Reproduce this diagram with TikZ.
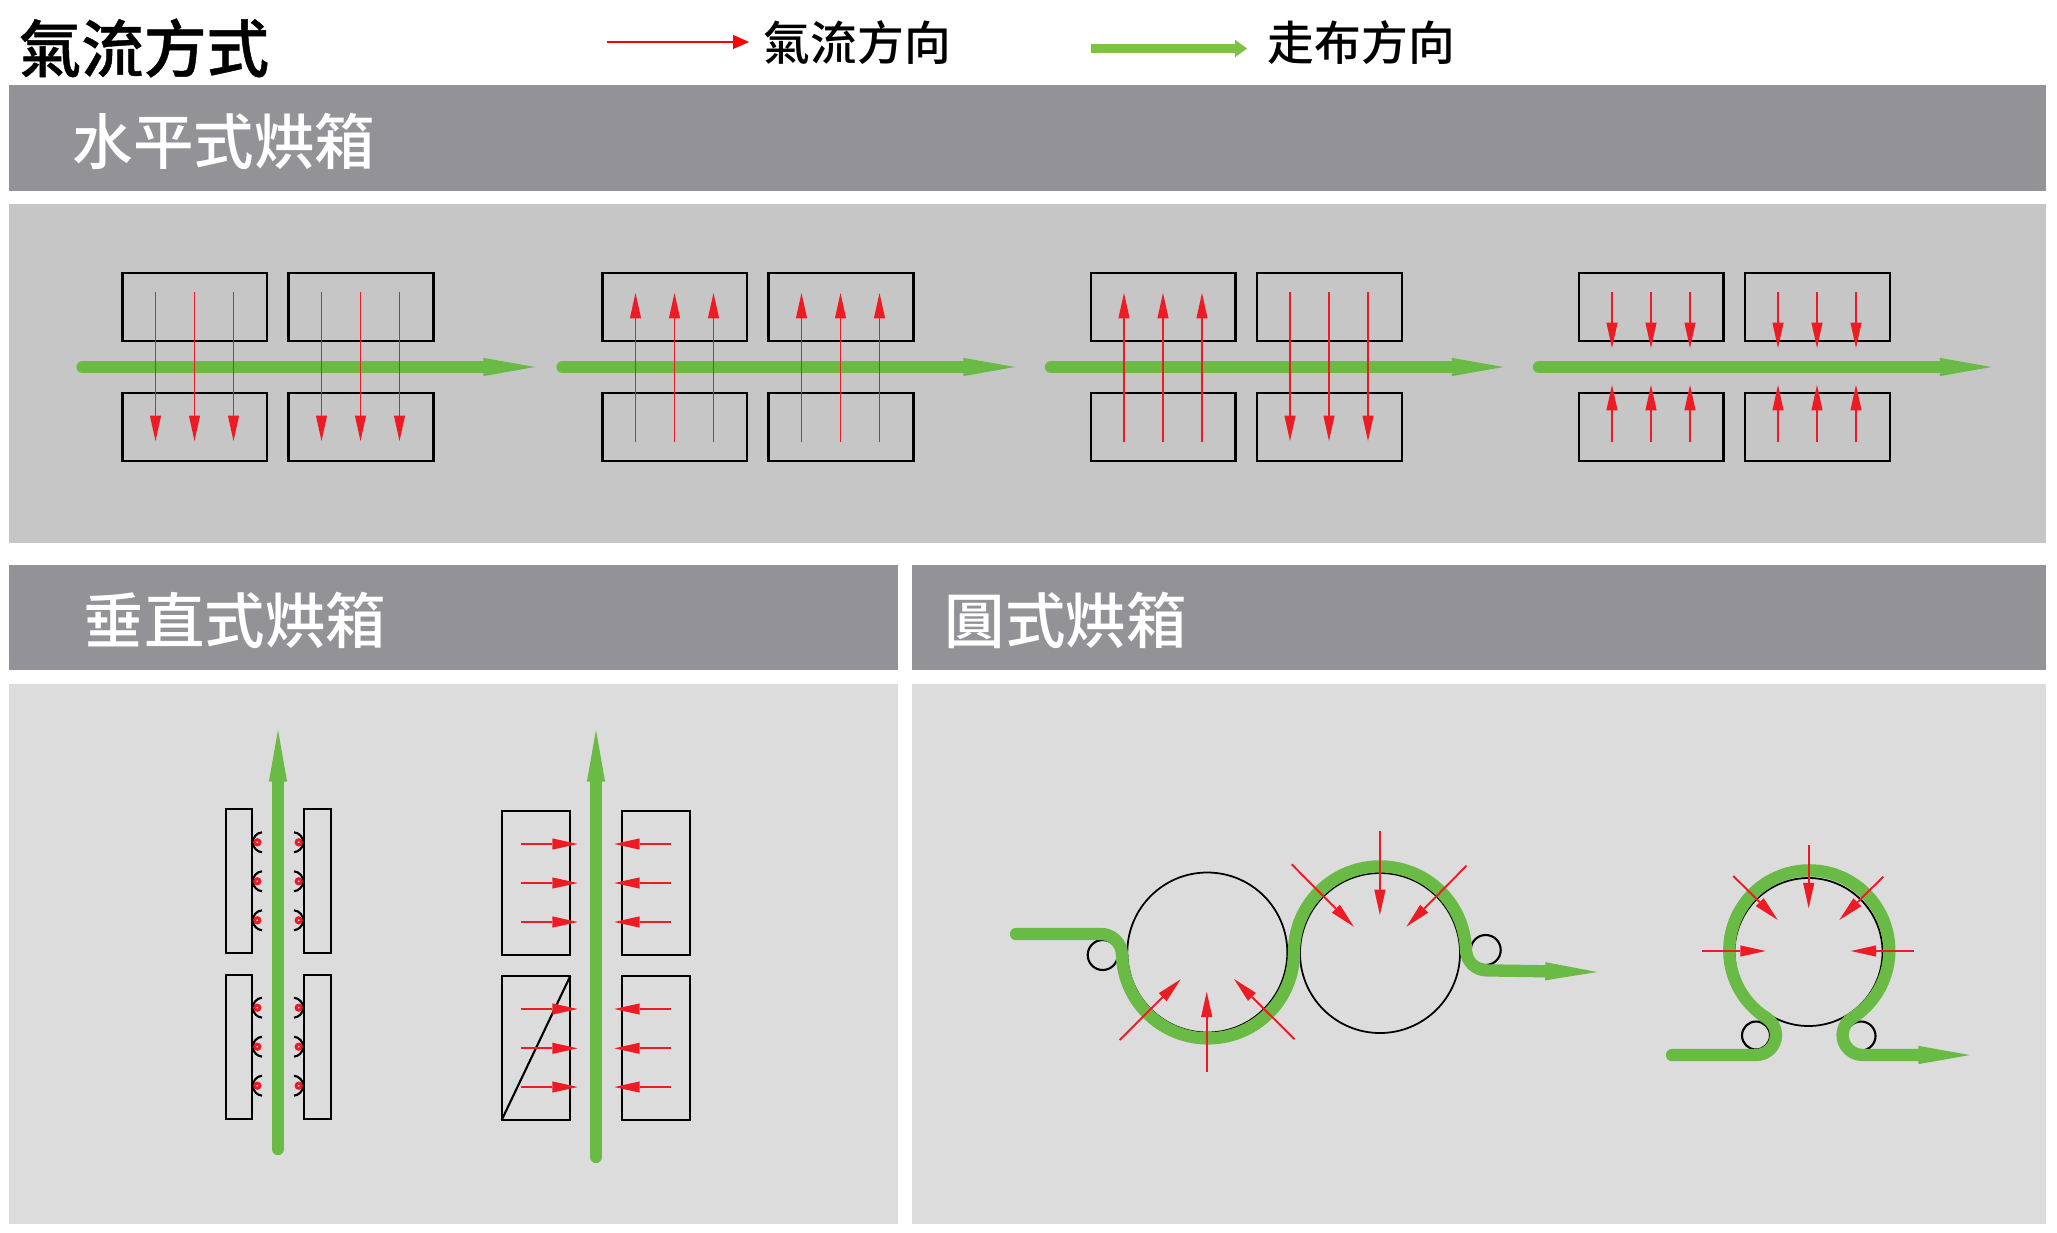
\documentclass[tikz,border=0pt]{standalone}
\usepackage{fontspec}
\usepackage{tikz}
\usetikzlibrary{arrows.meta}
\newfontfamily\cjk{Noto Sans CJK TC Medium}
\newfontfamily\cjktitle[FakeBold=0.7]{Noto Sans CJK TC Medium}
\definecolor{barGray}{HTML}{939297}
\definecolor{panelDark}{HTML}{C6C6C6}
\definecolor{panelLight}{HTML}{DCDCDC}
\definecolor{beltGreen}{HTML}{6ABB46}
\definecolor{legendGreen}{HTML}{7DC242}
\definecolor{airRed}{HTML}{ED1C24}
\tikzset{
  box/.style={draw=black, line width=0.6pt},
  belt/.style={draw=beltGreen, line width=3.5pt, line cap=round, -{Triangle[length=14.7pt,width=5.2pt,line width=0pt,fill=beltGreen]}},
  air/.style={draw=airRed, line width=0.55pt, -{Triangle[length=7.2pt,width=3.2pt,line width=0pt,fill=airRed]}},
  roller/.style={draw=black, line width=0.5pt},
  heading/.style={anchor=west, text=white, font=\cjk\fontsize{17.2}{17.2}\selectfont, inner sep=0pt},
  legendtext/.style={anchor=west, text=black, font=\cjk\fontsize{13.3}{13.3}\selectfont, inner sep=0pt},
}

\begin{document}
\begin{tikzpicture}[x=0.01cm, y=-0.01cm]
  \useasboundingbox (0,0) rectangle (2057,1233);
  % bars and panels
  \fill[barGray] (9,85) rectangle (2046,191);
  \fill[panelDark] (9,204) rectangle (2046,543);
  \fill[barGray] (9,565) rectangle (898,670);
  \fill[barGray] (912,565) rectangle (2046,670);
  \fill[panelLight] (9,684) rectangle (898,1224);
  \fill[panelLight] (912,684) rectangle (2046,1224);

  % title and legend
  \node[anchor=west, inner sep=0pt, font=\cjktitle\fontsize{17.8}{17.8}\selectfont] (title) at (18,48) {氣流方式};
  \coordinate (airFrom) at (607,42);
  \node[legendtext] (airLabel) at (763,43) {氣流方向};
  \draw[draw=red, line width=0.6pt, -{Triangle[length=4.5pt,width=4pt,line width=0pt,fill=red]}] (airFrom) -- (749,42);
  \coordinate (beltFrom) at (1091,48.5);
  \node[legendtext] (beltLabel) at (1267,43) {走布方向};
  \draw[draw=legendGreen, line width=2.8pt, -{Triangle[length=3.4pt,width=5pt,line width=0pt,fill=legendGreen]}] (beltFrom) -- (1247,48.5);

  \node[heading] (flatHead) at (72,141) {水平式烘箱};
  \node[heading] (uprightHead) at (83,620) {垂直式烘箱};
  \node[heading] (roundHead) at (944,620) {圓式烘箱};

  % horizontal oven
  \foreach \i in {0,480,968.5,1456.5} {
    \draw[box] (\i+122.5,273) rectangle (\i+267,341);
    \draw[box] (\i+288.5,273) rectangle (\i+433.5,341);
    \draw[box] (\i+122.5,393) rectangle (\i+267,461);
    \draw[box] (\i+288.5,393) rectangle (\i+433.5,461);
    \draw[belt] (\i+82.5,367) -- (\i+535,367);
  }
  \foreach \i/\a/\b in {0/292/441, 166/292/441, 480/442/293, 646/442/293,
      968.5/442/293, 1134.5/292/441, 1456.5/292/348, 1622.5/292/348,
      1456.5/442/385, 1622.5/442/385} {
    \foreach \j in {0,39,78}
      \draw[air] (\i+155.5+\j,\a) -- (\i+155.5+\j,\b);
  }

  % vertical oven, nozzles
  \foreach \y in {809,975} {
    \draw[box] (225.7,\y) rectangle (252.3,\y+144);
    \draw[box] (304,\y) rectangle (331.3,\y+144);
  }
  \foreach \y in {842.3,881.3,920.3,1007.7,1046.7,1085.7} {
    \draw[black, line width=0.6pt] (262,\y-10) arc[start angle=-95,end angle=-265,radius=10];
    \draw[black, line width=0.6pt] (294,\y-10) arc[start angle=-85,end angle=85,radius=10];
    \fill[airRed] (257.3,\y) circle (4.2);
    \fill[airRed] (298.7,\y) circle (4.2);
    \fill[white] (257.3,\y) circle (0.9);
    \fill[white] (298.7,\y) circle (0.9);
  }
  \draw[belt] (278,1149) -- (278,730);

  % vertical oven, jets
  \draw[box] (501.7,810.7) rectangle (570.3,955);
  \draw[box] (621.7,810.7) rectangle (690,955);
  \draw[box] (501.7,976) rectangle (570.3,1120);
  \draw[box] (621.7,976) rectangle (690,1120);
  \draw[box] (570.3,976) -- (501.7,1120);
  \draw[belt] (596,1157) -- (596,730);
  \foreach \y in {844,883,922,1009,1048.3,1087} {
    \draw[air, line width=0.6pt] (520.7,\y) -- (577.7,\y);
    \draw[air, line width=0.6pt] (671,\y) -- (614.3,\y);
  }

  % round oven, two drums
  \draw[roller] (1207.3,952.5) circle (80);
  \draw[roller] (1380,953) circle (80);
  \draw[roller, line width=0.6pt] (1102.7,955) circle (15);
  \draw[roller, line width=0.6pt] (1485.7,950) circle (15);
  \draw[belt] (1016,934) -- (1101,934)
    arc[start angle=-90,end angle=-1.4,radius=21]
    arc[start angle=178.6,end angle=0,radius=86]
    arc[start angle=180,end angle=358.4,radius=86]
    arc[start angle=178.4,end angle=90,radius=21]
    -- (1597,972);
  \draw[air] (1206.7,1071.7) -- (1206.7,991.7);
  \draw[air] (1119.7,1040) -- (1180.6,979.3);
  \draw[air] (1294.5,1039.3) -- (1234,979);
  \draw[air] (1379.9,831) -- (1379.9,915);
  \draw[air] (1291.7,864.3) -- (1353.8,926.7);
  \draw[air] (1466.5,865.7) -- (1406.4,926.7);

  % round oven, one drum
  \draw[roller] (1808.5,952) circle (74);
  \draw[roller, line width=0.6pt] (1756,1035.5) circle (14);
  \draw[roller, line width=0.6pt] (1861,1036) circle (14.5);
  \draw[belt] (1672,1055) -- (1756,1055)
    arc[start angle=90,end angle=-57.8,radius=20]
    arc[start angle=122.2,end angle=417.8,radius=80]
    arc[start angle=237.8,end angle=90,radius=20]
    -- (1970,1055);
  \draw[air] (1808.7,845) -- (1808.7,908.3);
  \draw[air] (1733.3,876) -- (1777.7,920);
  \draw[air] (1883.3,876.7) -- (1839.3,920);
  \draw[air] (1702.3,951) -- (1765.7,951);
  \draw[air] (1914.3,951) -- (1850.7,951);
\end{tikzpicture}
\end{document}
